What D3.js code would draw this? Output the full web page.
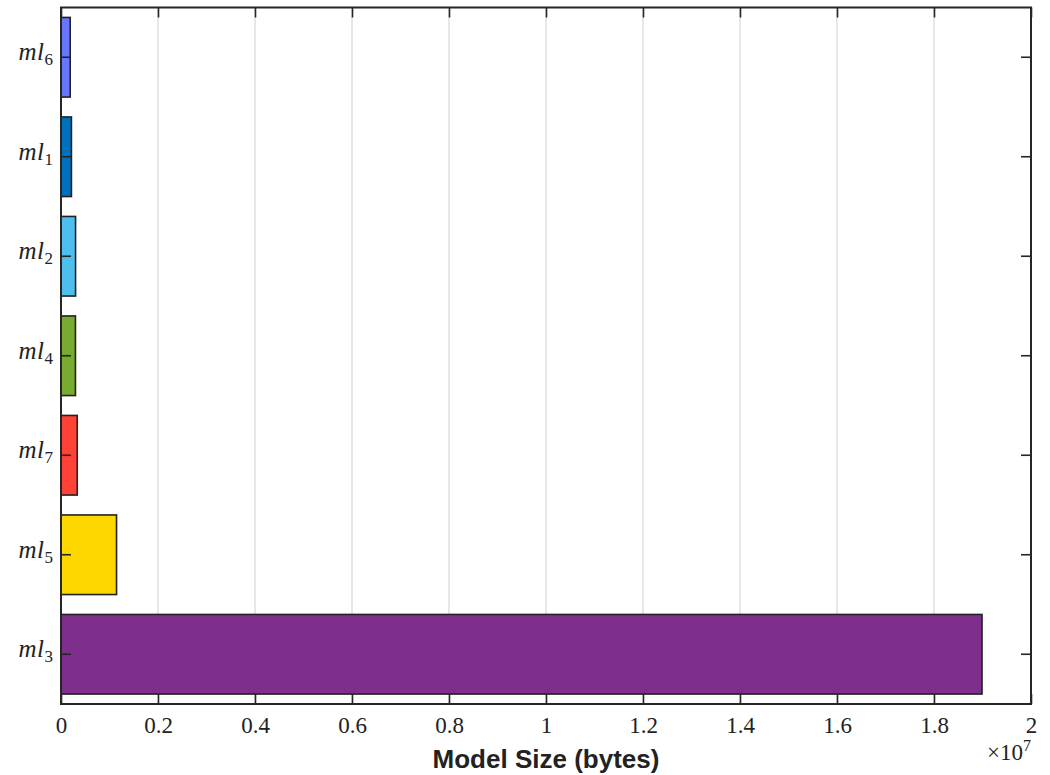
<!DOCTYPE html>
<html>
<head>
<meta charset="utf-8">
<script src="https://cdn.jsdelivr.net/npm/d3@7"></script>
<style>
  body { margin: 0; background: #fff; }
  svg { display: block; }
</style>
</head>
<body>
<svg id="chart" width="1050" height="775"></svg>
<script>
// Model names (subscript index), listed top to bottom
const models = ["6", "1", "2", "4", "7", "5", "3"];
// Model sizes in bytes
const sizes = [190000, 215000, 300000, 298000, 335000, 1145000, 18990000];
// Bar fill colours
const colors = ["#6877FF", "#0072BD", "#4DBEEE", "#77AC30", "#FF4136", "#FFD700", "#7E2F8E"];
// X tick values (in units of 1e7)
const xTicks = [0, 0.2, 0.4, 0.6, 0.8, 1, 1.2, 1.4, 1.6, 1.8, 2];

const svg = d3.select("#chart");
const m = { left: 61, right: 1031, top: 7.5, bottom: 704 };

const x = d3.scaleLinear().domain([0, 2e7]).range([m.left, m.right]);
const y = d3.scaleBand().domain(models).range([m.top, m.bottom]).paddingInner(0.2).paddingOuter(0.1);

const axisColor = "#262626";
const serif = "'Liberation Serif', 'DejaVu Serif', serif";

// vertical grid lines
svg.append("g").selectAll("line").data(xTicks.slice(1, -1)).join("line")
  .attr("x1", d => x(d * 1e7)).attr("x2", d => x(d * 1e7))
  .attr("y1", m.top).attr("y2", m.bottom)
  .attr("stroke", "#dfdfdf").attr("stroke-width", 1.5);

// bars
svg.append("g").selectAll("rect").data(models).join("rect")
  .attr("x", x(0))
  .attr("y", (d) => y(d))
  .attr("width", (d, i) => x(sizes[i]) - x(0))
  .attr("height", y.bandwidth())
  .attr("fill", (d, i) => colors[i])
  .attr("stroke", "#222").attr("stroke-width", 1.6);

// bottom axis, ticks pointing inward
const xAxis = d3.axisBottom(x).tickValues(xTicks.map(d => d * 1e7))
  .tickSizeInner(-10).tickSizeOuter(0).tickPadding(13)
  .tickFormat((d, i) => String(xTicks[i]));
const gx = svg.append("g").attr("transform", `translate(0,${m.bottom})`).call(xAxis);
gx.select(".domain").remove();
gx.selectAll(".tick line").attr("stroke", axisColor).attr("stroke-width", 1.6);
gx.selectAll(".tick text").attr("font-family", serif).attr("font-size", 23).attr("fill", "#222");

// top axis ticks
const gxt = svg.append("g").attr("transform", `translate(0,${m.top})`)
  .call(d3.axisTop(x).tickValues(xTicks.map(d => d * 1e7)).tickSizeInner(-10).tickSizeOuter(0).tickFormat(""));
gxt.select(".domain").remove();
gxt.selectAll(".tick line").attr("stroke", axisColor).attr("stroke-width", 1.6);

// left axis ticks pointing inward with math-style labels
const yAxis = d3.axisLeft(y).tickSizeInner(-10).tickSizeOuter(0).tickFormat("");
const gy = svg.append("g").attr("transform", `translate(${m.left},0)`).call(yAxis);
gy.select(".domain").remove();
gy.selectAll(".tick line").attr("stroke", axisColor).attr("stroke-width", 1.6);
gy.selectAll(".tick").append("text")
  .attr("x", -8).attr("dy", "0.32em")
  .attr("text-anchor", "end")
  .attr("font-family", serif).attr("fill", "#222")
  .each(function(d) {
    const t = d3.select(this);
    t.append("tspan").attr("font-style", "italic").attr("font-size", 25).attr("letter-spacing", 0.5).text("ml");
    t.append("tspan").attr("font-size", 17).attr("dy", 5).text(d);
  });

// right axis ticks
const gyr = svg.append("g").attr("transform", `translate(${m.right},0)`)
  .call(d3.axisRight(y).tickSizeInner(-10).tickSizeOuter(0).tickFormat(""));
gyr.select(".domain").remove();
gyr.selectAll(".tick line").attr("stroke", axisColor).attr("stroke-width", 1.6);

// plot box
svg.append("rect")
  .attr("x", m.left).attr("y", m.top)
  .attr("width", m.right - m.left).attr("height", m.bottom - m.top)
  .attr("fill", "none").attr("stroke", axisColor).attr("stroke-width", 2);

// exponent marker
const ex = svg.append("text")
  .attr("x", 1031).attr("y", 760).attr("text-anchor", "end")
  .attr("font-family", serif).attr("font-size", 23).attr("fill", "#222");
ex.append("tspan").text("×10");
ex.append("tspan").attr("font-size", 16).attr("dy", -9).text("7");

// axis title
svg.append("text")
  .attr("x", 546).attr("y", 768)
  .attr("text-anchor", "middle")
  .attr("font-family", "'Liberation Sans', Arial, sans-serif")
  .attr("font-weight", "bold").attr("font-size", 26).attr("fill", "#222")
  .text("Model Size (bytes)");
</script>
</body>
</html>
